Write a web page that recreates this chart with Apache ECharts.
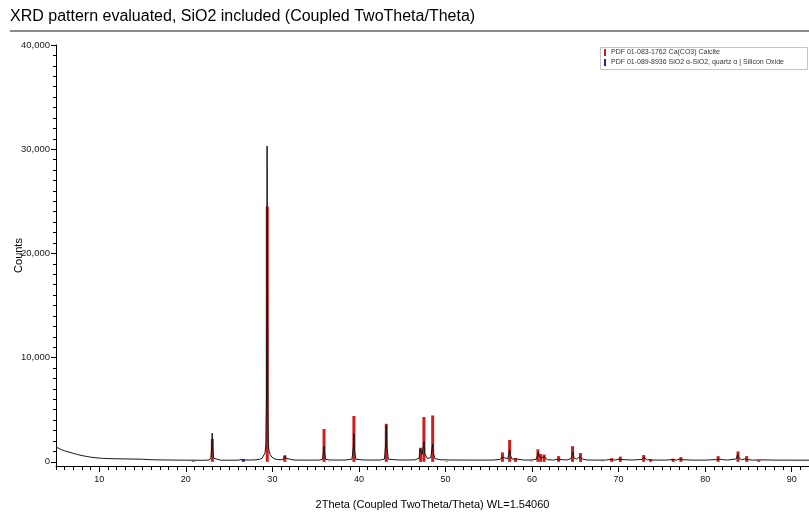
<!DOCTYPE html>
<html>
<head>
<meta charset="utf-8">
<script src="https://cdn.jsdelivr.net/npm/echarts@6/dist/echarts.min.js"></script>
<style>
  html, body { margin: 0; padding: 0; background: #fff; }
  #chart { width: 809px; height: 514px; }
</style>
</head>
<body>
<div id="chart"></div>
<script>
// Measured scan: [2Theta, counts]
const measured = [
  [5.0,1420],[5.3,1300],[5.6,1180],[6.0,1060],[6.5,930],[7.0,810],[7.5,700],[8.0,600],
  [8.5,520],[9.0,450],[9.5,400],[10.0,360],[10.5,330],[11.0,310],[12.0,290],[13.0,280],
  [14.0,265],[15.0,250],[15.5,220],[16.0,200],[17.0,185],[18.0,175],[19.0,165],[20.0,160],
  [21.0,155],[22.0,150],[22.7,170],[22.9,400],[23.0,1500],[23.05,2760],[23.1,1300],[23.2,350],
  [23.4,180],[24.0,160],[25.0,155],[26.0,160],[26.5,220],[26.64,300],[26.8,180],[27.5,170],
  [28.0,190],[28.5,230],[28.8,330],[29.0,500],[29.15,850],[29.25,1700],[29.32,6000],
  [29.36,16000],[29.39,30300],[29.42,20000],[29.45,13500],[29.48,5000],[29.53,1800],
  [29.6,1100],[29.75,700],[29.95,450],[30.2,300],[30.6,220],[31.2,200],[31.35,380],
  [31.44,620],[31.52,350],[31.7,200],[32.5,170],[33.5,165],[34.5,165],[35.5,170],[35.8,260],
  [35.92,1200],[35.97,1500],[36.03,900],[36.15,250],[36.6,180],[37.5,170],[38.5,175],
  [39.2,260],[39.36,1500],[39.42,2700],[39.48,1100],[39.65,250],[40.5,180],[41.5,170],
  [42.5,175],[42.95,270],[43.1,1800],[43.16,3500],[43.22,1500],[43.4,250],[44.5,180],
  [45.5,175],[46.5,190],[46.95,350],[47.08,1250],[47.15,1000],[47.3,700],[47.45,1600],
  [47.52,1950],[47.6,800],[47.9,330],[48.3,400],[48.45,1300],[48.53,1700],[48.6,800],
  [48.8,300],[49.5,190],[50.1,200],[50.5,175],[52.0,170],[54.0,165],[55.5,170],[56.3,220],
  [56.5,450],[56.58,520],[56.7,300],[57.2,300],[57.35,900],[57.42,1200],[57.5,600],
  [57.7,260],[58.05,300],[58.2,200],[59.0,170],[60.0,175],[60.5,260],[60.65,700],
  [60.72,900],[60.85,500],[61.0,520],[61.15,380],[61.4,480],[61.55,300],[61.8,200],
  [62.5,170],[62.95,250],[63.07,350],[63.2,220],[64.0,180],[64.5,300],[64.65,750],
  [64.72,950],[64.85,400],[65.1,250],[65.5,480],[65.62,550],[65.8,280],[66.3,180],
  [67.5,165],[68.5,170],[69.1,230],[69.25,220],[69.6,170],[70.05,260],[70.2,330],
  [70.4,220],[71.5,170],[72.7,230],[72.9,430],[73.05,320],[73.3,200],[73.6,220],[74.0,170],
  [75.5,165],[76.2,220],[76.35,210],[76.7,170],[77.05,260],[77.2,330],[77.45,200],
  [78.5,165],[80.0,165],[81.3,220],[81.5,400],[81.7,260],[82.1,200],[82.6,170],[83.6,280],
  [83.75,700],[83.9,380],[84.2,200],[84.7,300],[84.85,360],[85.05,200],[85.5,165],
  [86.3,190],[86.5,170],[88.0,165],[90.0,160],[92.0,160]
];

// Reference stick pattern, calcite (PDF 01-083-1762)
const calciteSticks = [
  [23.06,2200],[29.41,24500],[31.44,600],[35.97,3150],[39.42,4400],[43.16,3650],
  [47.12,1350],[47.51,4300],[48.52,4450],[56.58,900],[57.41,2100],[58.09,350],
  [60.68,1200],[61.0,750],[61.4,700],[63.07,550],[64.68,1500],[65.6,850],[69.2,350],
  [70.2,500],[72.9,650],[73.7,230],[76.3,300],[77.2,450],[81.5,550],[83.8,1000],
  [84.8,550],[86.2,150]
];

// Reference stick pattern, quartz (PDF 01-089-8936)
const quartzSticks = [
  [20.86,60],[26.64,260],[36.54,20],[50.14,40],[59.96,30],[68.14,20]
];

const calciteName = 'PDF 01-083-1762 Ca(CO3) Calcite';
const quartzName = 'PDF 01-089-8936 SiO2 \u03b1-SiO2, quartz \u03b1 | Silicon Oxide';

const xMajor = [10, 20, 30, 40, 50, 60, 70, 80, 90];
const xMinor = [];
for (let v = 5; v <= 92; v += 1) xMinor.push(v);
const yMajor = [0, 10000, 20000, 30000, 40000];
const yMinor = [];
for (let v = 0; v <= 40000; v += 1000) yMinor.push(v);

const font = '"Liberation Sans", Arial, sans-serif';
const chart = echarts.init(document.getElementById('chart'), null, { renderer: 'canvas' });

chart.setOption({
  animation: false,
  backgroundColor: '#fff',
  textStyle: { fontFamily: font },
  grid: { left: 56, right: 0, top: 45, bottom: 48, containLabel: false, outerBoundsMode: 'none' },
  graphic: [
    { type: 'text', left: 10, top: 9,
      style: { text: 'XRD pattern evaluated, SiO2 included (Coupled TwoTheta/Theta)',
               font: '16px ' + font, fill: '#000' } },
    { type: 'line', shape: { x1: 10, y1: 31, x2: 809, y2: 31 },
      style: { stroke: '#8c8c8c', lineWidth: 2 } },
    { type: 'rect', shape: { x: 600.5, y: 47.5, width: 207, height: 22 },
      style: { fill: '#fff', stroke: '#c4c4c4', lineWidth: 1 }, z: 10 }
  ],
  legend: {
    orient: 'vertical', left: 604, top: 49, padding: 0, itemGap: 3,
    itemWidth: 2, itemHeight: 7, icon: 'rect', z: 11,
    data: [calciteName, quartzName],
    textStyle: { fontSize: 7, color: '#333', padding: [0, 0, 0, 0] }
  },
  xAxis: [
    { type: 'value', min: 5, max: 92, position: 'bottom',
      name: '2Theta (Coupled TwoTheta/Theta) WL=1.54060',
      nameLocation: 'middle', nameGap: 33, nameMoveOverlap: false,
      nameTextStyle: { fontSize: 11, color: '#000' },
      axisLine: { onZero: false, lineStyle: { color: '#000', width: 1 } },
      axisTick: { customValues: xMajor, length: 6, lineStyle: { color: '#000' } },
      axisLabel: { customValues: xMajor, fontSize: 9, color: '#111', margin: 9 },
      splitLine: { show: false } },
    { type: 'value', min: 5, max: 92, position: 'bottom',
      axisLine: { show: false, onZero: false },
      axisTick: { customValues: xMinor, length: 4, lineStyle: { color: '#000' } },
      axisLabel: { show: false }, splitLine: { show: false } }
  ],
  yAxis: [
    { type: 'value', min: -400, max: 40000, position: 'left',
      name: 'Counts', nameLocation: 'middle', nameGap: 32, nameMoveOverlap: false,
      nameTextStyle: { fontSize: 11, color: '#000' },
      axisLine: { show: true, onZero: false, lineStyle: { color: '#000', width: 1 } },
      axisTick: { show: true, customValues: yMajor, length: 5, lineStyle: { color: '#000' } },
      axisLabel: { customValues: yMajor, fontSize: 9.5, color: '#222', margin: 6,
                   formatter: v => v.toLocaleString('en-US') },
      splitLine: { show: false } },
    { type: 'value', min: -400, max: 40000, position: 'left',
      axisLine: { show: false, onZero: false },
      axisTick: { show: true, customValues: yMinor, length: 3, lineStyle: { color: '#000' } },
      axisLabel: { show: false }, splitLine: { show: false } }
  ],
  series: [
    { name: calciteName, type: 'bar', data: calciteSticks, barWidth: 3, barGap: '-100%',
      itemStyle: { color: '#cc1f1f' }, z: 2 },
    { name: quartzName, type: 'bar', data: quartzSticks, barWidth: 3, barGap: '-100%',
      itemStyle: { color: '#1c2c9c' }, z: 2 },
    { name: 'Measured', type: 'line', data: measured, showSymbol: false,
      lineStyle: { color: '#151515', width: 1 }, z: 3 }
  ]
});
</script>
</body>
</html>
